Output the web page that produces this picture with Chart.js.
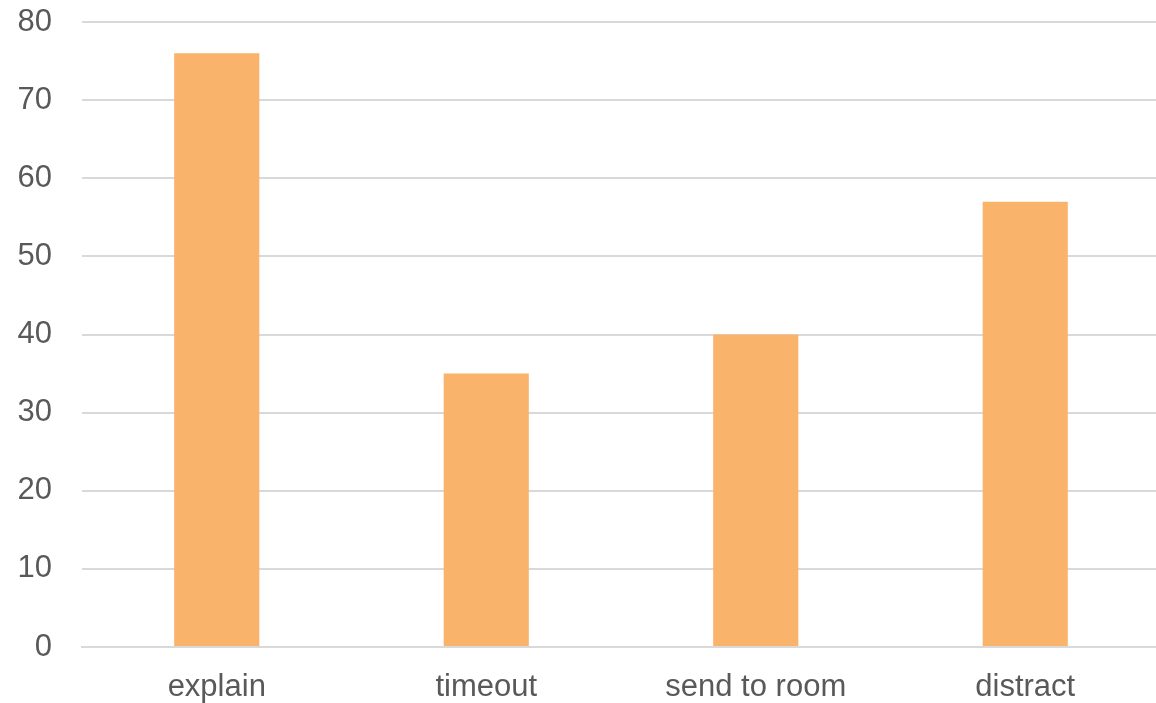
<!DOCTYPE html>
<html>
<head>
<meta charset="utf-8">
<script src="https://cdn.jsdelivr.net/npm/chart.js@4"></script>
<style>
html,body{margin:0;padding:0;background:#fff;overflow:hidden;width:1156px;height:703px;}
#wrap{width:1160px;height:703px;position:relative;}
</style>
</head>
<body>
<div id="wrap"><canvas id="c"></canvas></div>
<script>
const categories = ["explain", "timeout", "send to room", "distract"];
const values = [76, 35, 40, 57];
const yMin = 0, yMax = 80, yStep = 10;

new Chart(document.getElementById('c'), {
  type: 'bar',
  data: {
    labels: categories,
    datasets: [{
      data: values,
      backgroundColor: '#F9B36B',
      categoryPercentage: 1.0,
      barPercentage: 0.316
    }]
  },
  options: {
    responsive: true,
    maintainAspectRatio: false,
    animation: false,
    devicePixelRatio: 1,
    layout: { padding: { left: 0, right: 0, top: 22, bottom: 0 } },
    plugins: { legend: { display: false }, tooltip: { enabled: false } },
    scales: {
      x: {
        grid: { display: false, drawTicks: false },
        border: { display: true, color: '#D9D9D9', width: 2 },
        ticks: { color: '#595959', font: { family: 'Liberation Sans, Arial', size: 31 }, padding: 22, maxRotation: 0 },
        afterFit: (s) => { s.height = 56; s.paddingLeft = 0; s.paddingRight = 0; }
      },
      y: {
        min: yMin, max: yMax,
        grid: { color: '#D9D9D9', lineWidth: 2, drawTicks: false },
        border: { display: false },
        ticks: { stepSize: yStep, color: '#595959', font: { family: 'Liberation Sans, Arial', size: 31 }, padding: 30 },
        afterFit: (s) => { s.width = 82; s.paddingTop = 0; s.paddingBottom = 0; }
      }
    }
  }
});
</script>
</body>
</html>
